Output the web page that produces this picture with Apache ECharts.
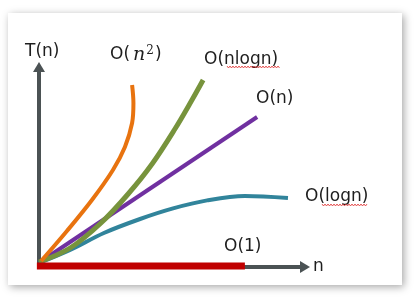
<!DOCTYPE html>
<html><head><meta charset="utf-8">
<script src="https://cdn.jsdelivr.net/npm/echarts@6/dist/echarts.min.js"></script>
<style>html,body{margin:0;padding:0;background:#fff}#c{width:418px;height:298px}</style>
</head><body><div id="c"></div>
<script>
// Data (n, T(n)), arbitrary units 0..10
const quadratic = [[0.08,0.3],[1.05,1.8],[1.99,3.35],[2.78,4.85],[3.23,6.0],[3.5,7.2],[3.55,8.2],[3.5,9.1]];
const nlogn = [[0.0,0.25],[1.17,0.95],[2.33,2.2],[3.35,3.65],[4.25,5.15],[5.11,6.9],[5.75,8.35],[6.17,9.35]];
const linear = [[0.1,0.3],[8.2,7.5]];
const logn = [[0.0,0.2],[1.17,0.85],[2.44,1.7],[3.8,2.4],[5.04,2.93],[6.32,3.33],[7.74,3.55],[9.36,3.45]];
const constant = [[-0.08,0.05],[7.74,0.05]];
const axisNames = ['n', 'T(n)'];

const chart = echarts.init(document.getElementById('c'), null, {renderer:'canvas'});
const font = 'DejaVu Sans';
function squiggle(x0, x1, y){
  const pts=[]; let up=true;
  for(let x=x0;x<=x1;x+=1.5){pts.push([x, y+(up?-1:1)]); up=!up;}
  return {type:'polyline', shape:{points:pts}, style:{stroke:'#e03030', lineWidth:0.8, fill:null}, z:10};
}
function txt(x,y,t,extra){
  return Object.assign({type:'text', x:x, y:y, style:{text:t, font:'17px "'+font+'"', fill:'#1e1e1e', textVerticalAlign:'middle'}, z:10}, extra||{});
}
function line(data,color,w){
  return {type:'line', data:data, smooth:0.35, smoothMonotone:null, symbol:'none', clip:false,
    lineStyle:{color:color, width:w, cap:'butt', join:'round'}, z:3};
}
chart.setOption({
  animation:false,
  backgroundColor:'#fff',
  grid:{left:39, top:67, width:266, height:200},
  xAxis:{type:'value', min:0, max:10, axisLine:{show:true, symbol:['none','triangle'], symbolSize:[12,10], lineStyle:{color:'#4b5254', width:4}},
    axisTick:{show:false}, axisLabel:{show:false}, splitLine:{show:false}},
  yAxis:{type:'value', min:0, max:10, axisLine:{show:true, symbol:['none','triangle'], symbolSize:[12,10], lineStyle:{color:'#4b5254', width:4}},
    axisTick:{show:false}, axisLabel:{show:false}, splitLine:{show:false}},
  series:[
    line(logn,'#31849b',4),
    line(linear,'#7030a0',4),
    line(nlogn,'#77933c',5),
    line(quadratic,'#e8730f',4),
    Object.assign(line(constant,'#c00000',7),{smooth:false, z:4})
  ],
  graphic:[
    {type:'rect', shape:{x:8,y:13,width:394,height:272}, style:{fill:'#fff', shadowBlur:8, shadowColor:'rgba(0,0,0,0.35)', shadowOffsetX:2, shadowOffsetY:2}, z:-10, silent:true},
    txt(25,52,axisNames[1]),
    txt(313,267,axisNames[0]),
    {type:'text', x:110, y:55, z:10, style:{text:'{a|O(}{m|n}{s|2}{a|)}', textVerticalAlign:'middle',
      rich:{a:{font:'17px "'+font+'"', fill:'#1e1e1e'}, m:{font:'italic 19px "DejaVu Serif"', fill:'#1e1e1e', padding:[0,1,0,3]}, s:{font:'12px "DejaVu Serif"', fill:'#1e1e1e', verticalAlign:'top', padding:[0,1,8,0]}}}},
    txt(204,60,'O(nlogn)'),
    txt(256,99,'O(n)'),
    txt(305,197,'O(logn)'),
    txt(224,247,'O(1)'),
    squiggle(227,280,67),
    squiggle(322,368,205)
  ]
});
</script></body></html>
